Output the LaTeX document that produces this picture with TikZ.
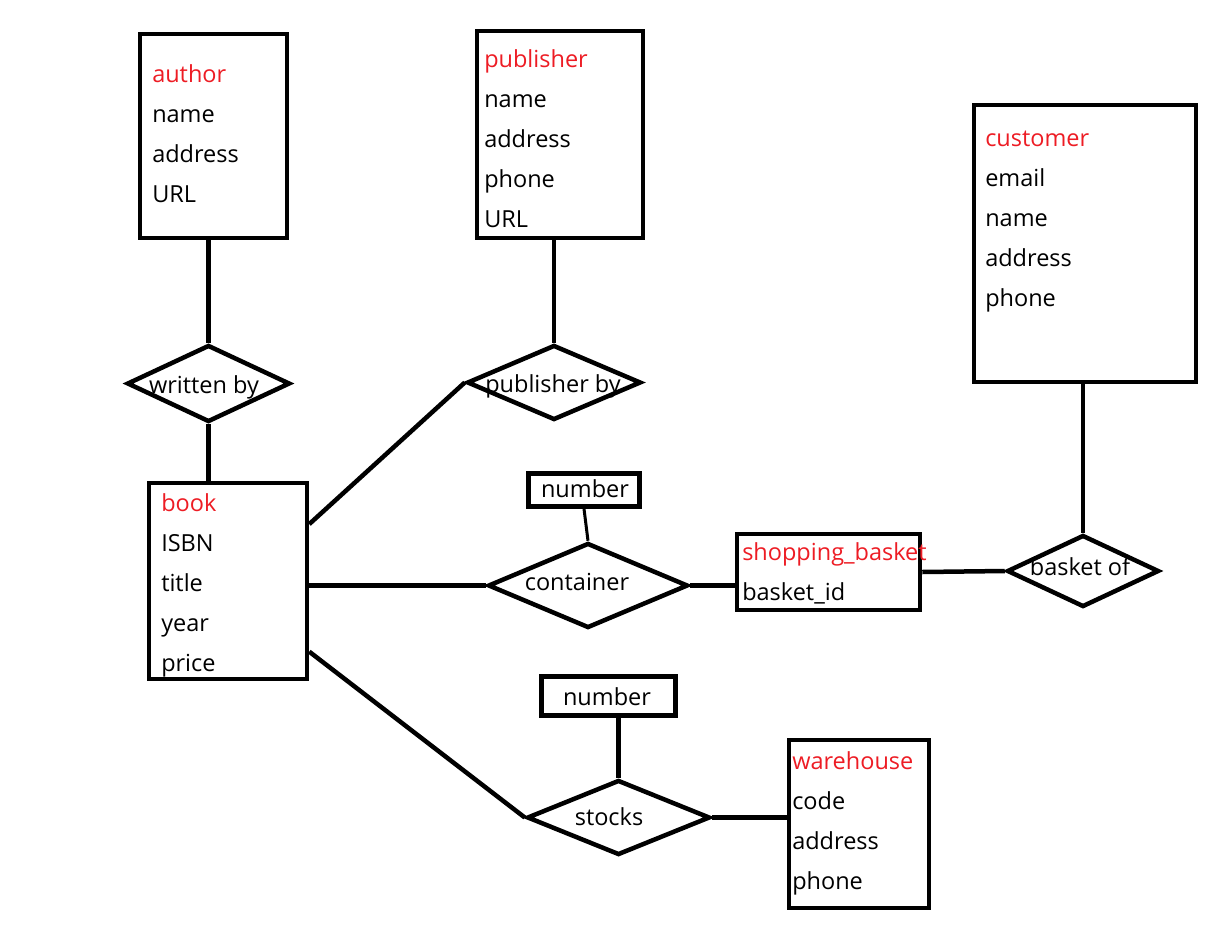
\documentclass[tikz,border=0pt]{standalone}
\usepackage{fontspec}
\setmainfont{Open Sans}
\usepackage{tikz}
\usetikzlibrary{shapes.geometric}
\usetikzlibrary{calc}

\definecolor{entred}{RGB}{237,28,36}

\begin{document}
\begin{tikzpicture}[x=1pt, y=-1pt, line width=4.5pt,
    entity/.style={draw, rectangle, inner sep=0pt},
    rel/.style={draw, diamond, inner sep=0pt},
    attr/.style={anchor=base west, inner sep=0pt, font=\fontsize{23.5}{28}\selectfont},
    etitle/.style={attr, text=entred},
    lbl/.style={anchor=base, inner sep=0pt, font=\fontsize{23.5}{28}\selectfont}]
    \useasboundingbox (0,0) rectangle (1212,926);

    % entities
    \node[entity, minimum width=147, minimum height=204] (au) at (213.5,136) {};
    \node[entity, minimum width=166, minimum height=207] (pub) at (560,134.5) {};
    \node[entity, minimum width=222, minimum height=277] (cu) at (1085,243.5) {};
    \node[entity, minimum width=158, minimum height=196] (book) at (228,581) {};
    \node[entity, minimum width=183, minimum height=76] (sb) at (828.5,572) {};
    \node[entity, minimum width=140, minimum height=168] (wh) at (859,824) {};
    \node[entity, minimum width=111, minimum height=33] (n1) at (584,490) {};
    \node[entity, minimum width=134, minimum height=39] (n2) at (608.5,696) {};

    % relations
    \node[rel, minimum width=163, minimum height=77] (wb) at (208.5,383.5) {};
    \node[rel, minimum width=174, minimum height=75] (pb) at (554,382.5) {};
    \node[rel, minimum width=200, minimum height=85] (cont) at (588,585.5) {};
    \node[rel, minimum width=152, minimum height=72] (bo) at (1083,571) {};
    \node[rel, minimum width=183, minimum height=75] (st) at (618.5,817.5) {};

    % texts
    \node[etitle] (au-t) at (150,82) {author};
    \foreach \t [count=\i] in {name,address,URL}
        \node[attr] (au-\i) at (150,82+40*\i) {\t};
    \node[etitle] (pub-t) at (482,67) {publisher};
    \foreach \t [count=\i] in {name,address,phone,URL}
        \node[attr] (pub-\i) at (482,67+40*\i) {\t};
    \node[etitle] (cu-t) at (983,146) {customer};
    \foreach \t [count=\i] in {email,name,address,phone}
        \node[attr] (cu-\i) at (983,146+40*\i) {\t};
    \node[etitle] (book-t) at (159,511) {book};
    \foreach \t [count=\i] in {ISBN,title,year,price}
        \node[attr] (book-\i) at (159,511+40*\i) {\t};
    \node[etitle] (sb-t) at (740,560) {shopping\_basket};
    \node[attr] (sb-1) at (740,600) {basket\_id};
    \node[etitle] (wh-t) at (790,769) {warehouse};
    \foreach \t [count=\i] in {code,address,phone}
        \node[attr] (wh-\i) at (790,769+40*\i) {\t};
    \node[lbl] (n1-t) at (585,497) {number};
    \node[lbl] (n2-t) at (607,705) {number};
    \node[lbl] (wb-t) at (204,393) {written by};
    \node[lbl] (pb-t) at (553,392) {publisher by};
    \node[lbl] (cont-t) at (577,590) {container};
    \node[lbl] (bo-t) at (1080,575) {basket of};
    \node[lbl] (st-t) at (609,825) {stocks};

    % connectors
    \draw (wb.north |- au.south) -- (wb.north);
    \draw (wb.south) -- (wb.south |- book.north);
    \draw (pb.north |- pub.south) -- (pb.north);
    \draw (book.35) -- (pb.west);
    \draw (cont.west -| book.east) -- (cont.west);
    \draw (cont.east) -- (cont.east -| sb.west);
    \draw (sb.east) -- (bo.west);
    \draw (bo.north |- cu.south) -- (bo.north);
    \draw[line width=3pt] (n1.south) -- (cont.north);
    \draw (book.-41) -- (st.west);
    \draw (st.north |- n2.south) -- (st.north);
    \draw (st.east) -- (st.east -| wh.west);
\end{tikzpicture}
\end{document}
